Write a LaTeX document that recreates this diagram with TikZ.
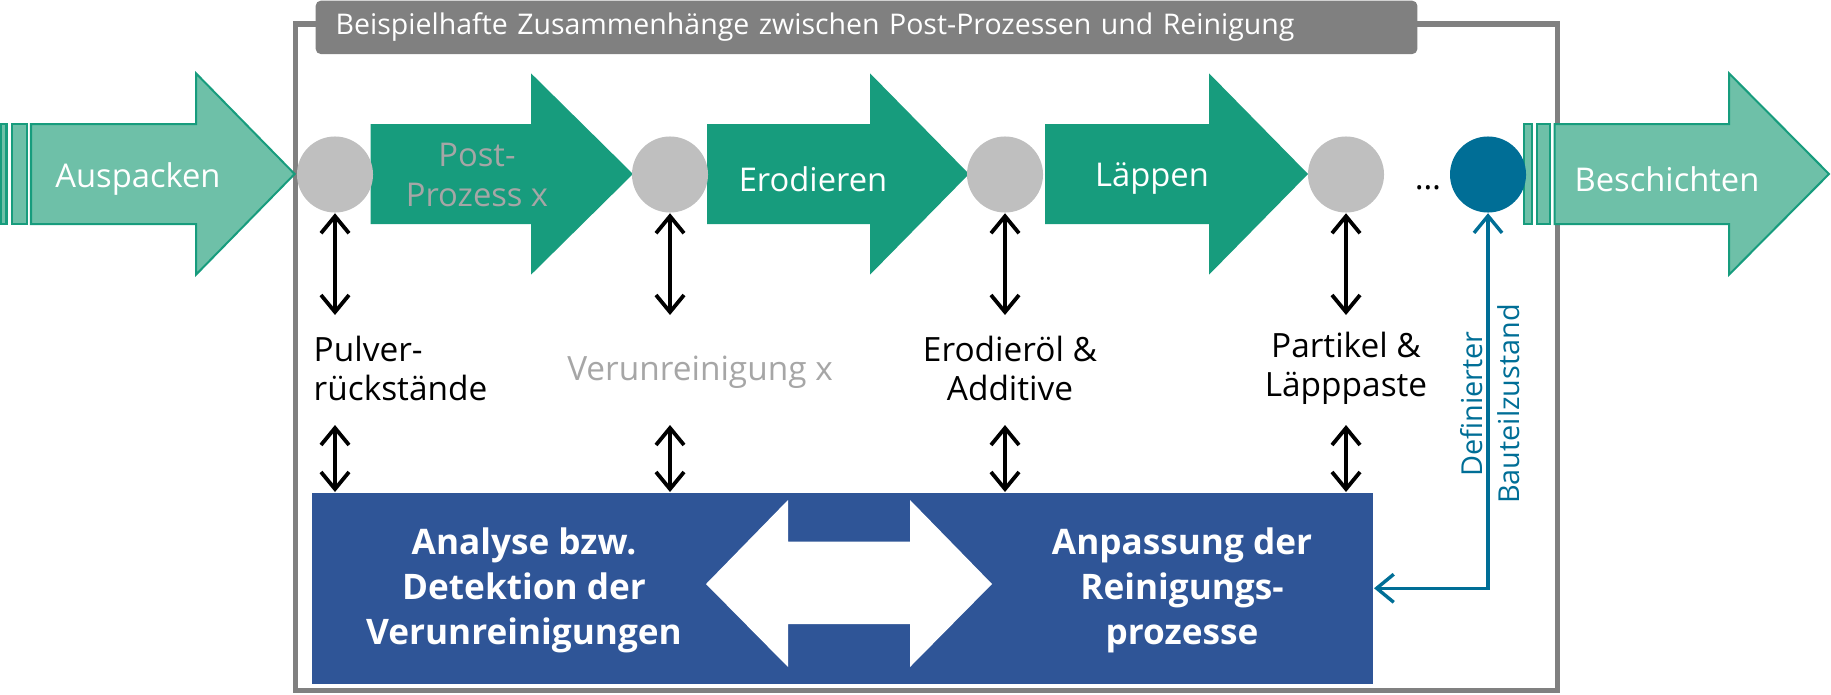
\documentclass[tikz,border=0pt]{standalone}
\usepackage{fontspec}
\setmainfont{Open Sans}
\usetikzlibrary{positioning}
\usetikzlibrary{arrows.meta}
\definecolor{fhgreen}{HTML}{179C7D}
\definecolor{fhlight}{RGB}{110,192,168}
\definecolor{framegray}{HTML}{808080}
\definecolor{dotgray}{HTML}{BFBFBF}
\definecolor{fhblue}{HTML}{2F5597}
\definecolor{fhteal}{HTML}{006E96}
\definecolor{txtgray}{HTML}{A6A6A6}

\begin{document}
\begin{tikzpicture}[x=0.01cm, y=-0.01cm,
    stepdot/.style={circle, fill=dotgray, minimum size=0.76cm, inner sep=0},
    steplabel/.style={text=white, font=\fontsize{9.3}{11.4}\selectfont, align=center, inner sep=0},
    midlabel/.style={font=\fontsize{9.5}{11.1}\selectfont, align=center, inner sep=0},
    boxlabel/.style={text=white, font=\bfseries\fontsize{10}{12.8}\selectfont, align=center, inner sep=0},
    outerstep/.style={fill=fhlight, draw=fhgreen, line width=0.02cm},
    biarrow/.style={{Straight Barb[length=0.17cm,width=0.28cm]}-{Straight Barb[length=0.17cm,width=0.28cm]}, line width=0.038cm}]
\useasboundingbox (0,0) rectangle (1831,694);

% frame and title
\draw[framegray, line width=0.05cm] (295,24) rectangle (1557,690);
\node[fill=framegray, rounded corners=0.05cm, anchor=north west, minimum width=11.01cm, minimum height=0.533cm,
      text width=10.61cm, inner xsep=0.2cm, inner ysep=0, text=white, font=\fontsize{8.1}{9}\selectfont] (title) at (315,0)
      {\raisebox{-0.02cm}{Beispielhafte Zusammenhänge zwischen Post-Prozessen und Reinigung}};

% process arrows
\filldraw[outerstep] (0.5,124) rectangle (6.5,224);
\filldraw[outerstep] (12,124) rectangle (26.8,224);
\filldraw[outerstep] (31,124) -- (196,124) -- (196,73.3) -- (294.6,174) -- (196,274.7) -- (196,224) -- (31,224) -- cycle;
\fill[fhgreen] (370.5,124) -- (531,124) -- (531,73.3) -- (633,174) -- (531,274.7) -- (531,224) -- (370.5,224) -- cycle;
\fill[fhgreen] (707,124) -- (870,124) -- (870,73.3) -- (969,174) -- (870,274.7) -- (870,224) -- (707,224) -- cycle;
\fill[fhgreen] (1045,124) -- (1209,124) -- (1209,73.3) -- (1308,174) -- (1209,274.7) -- (1209,224) -- (1045,224) -- cycle;
\filldraw[outerstep] (1524,124) rectangle (1531.6,224);
\filldraw[outerstep] (1537,124) rectangle (1550,224);
\filldraw[outerstep] (1554.5,124) -- (1729,124) -- (1729,73.3) -- (1829,174) -- (1729,274.7) -- (1729,224) -- (1554.5,224) -- cycle;

\node[steplabel] (auspacken) at (138,179) {Auspacken};
\node[steplabel, text=txtgray] (post) at (477,175) {Post-\\Prozess x};
\node[steplabel] (erodieren) at (813,179) {Erodieren};
\node[steplabel] (laeppen) at (1152,179) {Läppen};
\node[steplabel] (beschichten) at (1667,179) {Beschichten};

% states between the steps
\node[stepdot] (c1) at (335,174.5) {};
\node[stepdot] (c2) at (670,174.5) {};
\node[stepdot] (c3) at (1005,174.5) {};
\node[stepdot] (c4) at (1346,174.5) {};
\node[stepdot, fill=fhteal] (cend) at (1488,174.5) {};
\node[midlabel] (dots) at (1428,188) {…};

% contaminations
\node[midlabel, align=left, anchor=west] (pulver) at (313,368) {Pulver-\\rückstände};
\node[midlabel, text=txtgray] (verun) at (700,372) {Verunreinigung x};
\node[midlabel] (erodoel) at (1010,368) {Erodieröl \&\\Additive};
\node[midlabel] (partikel) at (1346,368) {Partikel \&\\Läpppaste};

% analysis and adaption
\node[fill=fhblue, anchor=north west, minimum width=10.61cm, minimum height=1.91cm, inner sep=0] (box) at (311,492) {};
\fill[white] (706,584) -- (788,500) -- (788,541.7) -- (910,541.7) -- (910,500) -- (992,584)
      -- (910,667) -- (910,624) -- (788,624) -- (788,667) -- cycle;
\node[boxlabel] (analyse) at (524,590) {Analyse bzw.\\Detektion der\\Verunreinigungen};
\node[boxlabel] (anpassung) at (1182,590) {Anpassung der\\Reinigungs-\\prozesse};

\coordinate (upend) at (0,315);
\coordinate (lowstart) at (0,425);
\foreach \c in {c1,c2,c3,c4} {
  \draw[biarrow] (\c.south) -- (\c |- upend);
  \draw[biarrow] (\c |- lowstart) -- (\c |- box.north);
}

% feedback of the final state
\draw[biarrow, fhteal, line width=0.034cm] (cend.south) |- (box.east);
\node[midlabel, text=fhteal, rotate=90, font=\fontsize{8.2}{10.5}\selectfont] (zustand) at (1490,404) {Definierter\\Bauteilzustand};
\end{tikzpicture}
\end{document}
